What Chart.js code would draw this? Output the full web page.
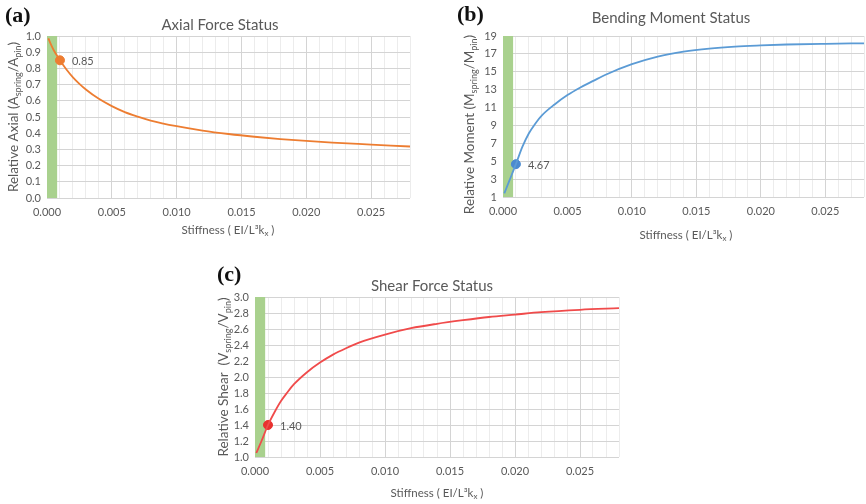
<!DOCTYPE html>
<html>
<head>
<meta charset="utf-8">
<script src="https://cdn.jsdelivr.net/npm/chart.js@4.4.1/dist/chart.umd.min.js"></script>
<style>
    html, body { margin: 0; padding: 0; background: #fff; }
    body { width: 866px; height: 504px; position: relative; overflow: hidden; }
    canvas { position: absolute; }
</style>
</head>
<body>
<canvas id="axialChart" width="420" height="245" style="left:0;top:0"></canvas>
<canvas id="momentChart" width="432" height="245" style="left:440px;top:0"></canvas>
<canvas id="shearChart" width="430" height="244" style="left:200px;top:260px"></canvas>
<script>
// ============================================
// Data
// ============================================

const stiffness = [0.0001, 0.0005, 0.001, 0.0015, 0.002, 0.0025, 0.003, 0.004, 0.005, 0.006, 0.007, 0.008, 0.010, 0.012, 0.014, 0.016, 0.018, 0.020, 0.022, 0.025, 0.028];
const axialValues = [0.985, 0.915, 0.85, 0.793, 0.745, 0.705, 0.67, 0.612, 0.567, 0.53, 0.502, 0.478, 0.443, 0.416, 0.395, 0.378, 0.364, 0.352, 0.342, 0.330, 0.318];
const momentValues = [1.4, 2.85, 4.67, 6.6, 8.1, 9.2, 10.1, 11.35, 12.4, 13.25, 13.98, 14.7, 15.85, 16.7, 17.25, 17.6, 17.82, 17.95, 18.05, 18.13, 18.18];
const shearValues = [1.05, 1.2, 1.40, 1.56, 1.70, 1.81, 1.91, 2.06, 2.18, 2.28, 2.36, 2.43, 2.53, 2.61, 2.665, 2.71, 2.75, 2.78, 2.81, 2.84, 2.86];

const markerStiffness = 0.001;
const axialMarker = 0.85;
const momentMarker = 4.67;
const shearMarker = 1.40;

const bandRange = [0, 0.0008];          // green highlighted zone
const xRange = [0, 0.028];
const xMinorStep = 0.001;
const xMajorStep = 0.005;

const axialTicks = { min: 0, max: 1, step: 0.1, decimals: 1 };
const momentTicks = { min: 1, max: 19, step: 2, decimals: 0 };
const shearTicks = { min: 1, max: 3, step: 0.2, decimals: 1 };

const xTitle = [{ t: 'Stiffness ( EI/L³k' }, { t: 'x', s: 'sub' }, { t: ' )' }];

const FONT = "Lato, 'Open Sans', sans-serif";
const TEXT = '#595959';

// rich text with subscript pieces, centred on (x, y)
function drawRich(ctx, segs, x, y, size, rotate) {
    ctx.save();
    ctx.translate(x, y);
    if (rotate) ctx.rotate(-Math.PI / 2);
    ctx.fillStyle = TEXT;
    ctx.textBaseline = 'middle';
    ctx.textAlign = 'left';
    const subSize = Math.round(size * 0.66);
    let total = 0;
    segs.forEach(s => {
        ctx.font = (s.s ? subSize : size) + 'px ' + FONT;
        total += ctx.measureText(s.t).width;
    });
    let cx = -total / 2;
    segs.forEach(s => {
        ctx.font = (s.s ? subSize : size) + 'px ' + FONT;
        ctx.fillText(s.t, cx, s.s ? size * 0.3 : 0);
        cx += ctx.measureText(s.t).width;
    });
    ctx.restore();
}

function isMajor(v) {
    return Math.round(v * 1000) % Math.round(xMajorStep * 1000) === 0;
}

function makeChart(id, cfg) {
    const ctx = document.getElementById(id);

    const textPlugin = {
        id: 'statusText',
        afterDraw(chart) {
            const c = chart.ctx;
            const area = chart.chartArea;
            c.save();
            // panel letter
            c.fillStyle = '#111';
            c.font = 'bold 22px "Liberation Serif", serif';
            c.textBaseline = 'middle';
            c.textAlign = 'left';
            c.fillText(cfg.letter, cfg.letterPos[0], cfg.letterPos[1]);
            // title
            c.fillStyle = TEXT;
            c.font = '15px ' + FONT;
            c.textAlign = 'center';
            c.fillText(cfg.title, cfg.titlePos[0], cfg.titlePos[1]);
            // marker label
            const px = chart.scales.x.getPixelForValue(markerStiffness);
            const py = chart.scales.y.getPixelForValue(cfg.marker);
            c.font = '11px ' + FONT;
            c.textAlign = 'left';
            c.fillText(cfg.marker.toFixed(2), px + 12, py + 1);
            c.restore();
            const midY = (area.top + area.bottom) / 2 + (cfg.yTitleShift || 0);
            drawRich(c, cfg.yTitle, cfg.yTitleX, midY, 13.5, true);
            drawRich(c, xTitle, cfg.xTitlePos[0], cfg.xTitlePos[1], 11.5, false);
        }
    };

    return new Chart(ctx, {
        type: 'line',
        data: {
            datasets: [
                {
                    data: stiffness.map((x, i) => ({ x, y: cfg.values[i] })),
                    borderColor: cfg.color,
                    borderWidth: 1.8,
                    pointRadius: 0,
                    cubicInterpolationMode: 'monotone',
                    fill: false
                },
                {
                    data: [{ x: markerStiffness, y: cfg.marker }],
                    backgroundColor: cfg.markerColor,
                    borderColor: cfg.markerColor,
                    pointRadius: 4.5,
                    showLine: false
                },
                {
                    data: bandRange.map(x => ({ x, y: cfg.ticks.max })),
                    backgroundColor: '#a9d18e',
                    borderWidth: 0,
                    pointRadius: 0,
                    fill: 'start'
                }
            ]
        },
        options: {
            responsive: false,
            animation: false,
            layout: { padding: { top: cfg.padTop, right: cfg.padRight, left: 0, bottom: 0 } },
            plugins: { legend: { display: false }, tooltip: { enabled: false } },
            scales: {
                x: {
                    type: 'linear',
                    min: xRange[0],
                    max: xRange[1],
                    border: { display: false },
                    grid: {
                        drawTicks: false,
                        color: c => isMajor(c.tick.value) ? '#d4d4d4' : '#ececec'
                    },
                    ticks: {
                        stepSize: xMinorStep,
                        maxTicksLimit: 100,
                        autoSkip: false,
                        includeBounds: false,
                        maxRotation: 0,
                        padding: 8,
                        color: TEXT,
                        font: { family: FONT, size: 11 },
                        callback: v => isMajor(v) ? v.toFixed(3) : ''
                    },
                    afterFit: s => { s.height = cfg.xAxisHeight; }
                },
                y: {
                    min: cfg.ticks.min,
                    max: cfg.ticks.max,
                    border: { display: false },
                    grid: { drawTicks: false, color: '#d4d4d4' },
                    ticks: {
                        stepSize: cfg.ticks.step,
                        autoSkip: false,
                        padding: 6,
                        color: TEXT,
                        font: { family: FONT, size: 11 },
                        callback: v => v.toFixed(cfg.ticks.decimals)
                    },
                    afterFit: s => { s.width = cfg.yAxisWidth; }
                }
            }
        },
        plugins: [textPlugin]
    });
}

makeChart('axialChart', {
    values: axialValues,
    marker: axialMarker,
    ticks: axialTicks,
    color: '#ed7d31',
    markerColor: '#ed7d31',
    letter: '(a)', letterPos: [5, 16],
    title: 'Axial Force Status', titlePos: [220, 25],
    yTitle: [{ t: 'Relative Axial (A' }, { t: 'spring', s: 'sub' }, { t: '/A' }, { t: 'pin', s: 'sub' }, { t: ')' }],
    yTitleX: 14,
    xTitlePos: [228, 230],
    padTop: 36, padRight: 10, yAxisWidth: 47, xAxisHeight: 47
});

makeChart('momentChart', {
    values: momentValues,
    marker: momentMarker,
    ticks: momentTicks,
    color: '#5b9bd5',
    markerColor: '#4a8ad0',
    letter: '(b)', letterPos: [17, 15],
    title: 'Bending Moment Status', titlePos: [231, 18],
    yTitle: [{ t: 'Relative Moment (M' }, { t: 'spring', s: 'sub' }, { t: '/M' }, { t: 'pin', s: 'sub' }, { t: ')' }],
    yTitleX: 30, yTitleShift: 8,
    xTitlePos: [246, 235],
    padTop: 36, padRight: 0, yAxisWidth: 63, xAxisHeight: 48
});

makeChart('shearChart', {
    values: shearValues,
    marker: shearMarker,
    ticks: shearTicks,
    color: '#f04b4b',
    markerColor: '#e8312f',
    letter: '(c)', letterPos: [17, 15],
    title: 'Shear Force Status', titlePos: [232, 26],
    yTitle: [{ t: 'Relative Shear  (V' }, { t: 'spring', s: 'sub' }, { t: '/V' }, { t: 'pin', s: 'sub' }, { t: ')' }],
    yTitleX: 24,
    xTitlePos: [237, 233],
    padTop: 37, padRight: 11, yAxisWidth: 55, xAxisHeight: 47
});
</script>
</body>
</html>
